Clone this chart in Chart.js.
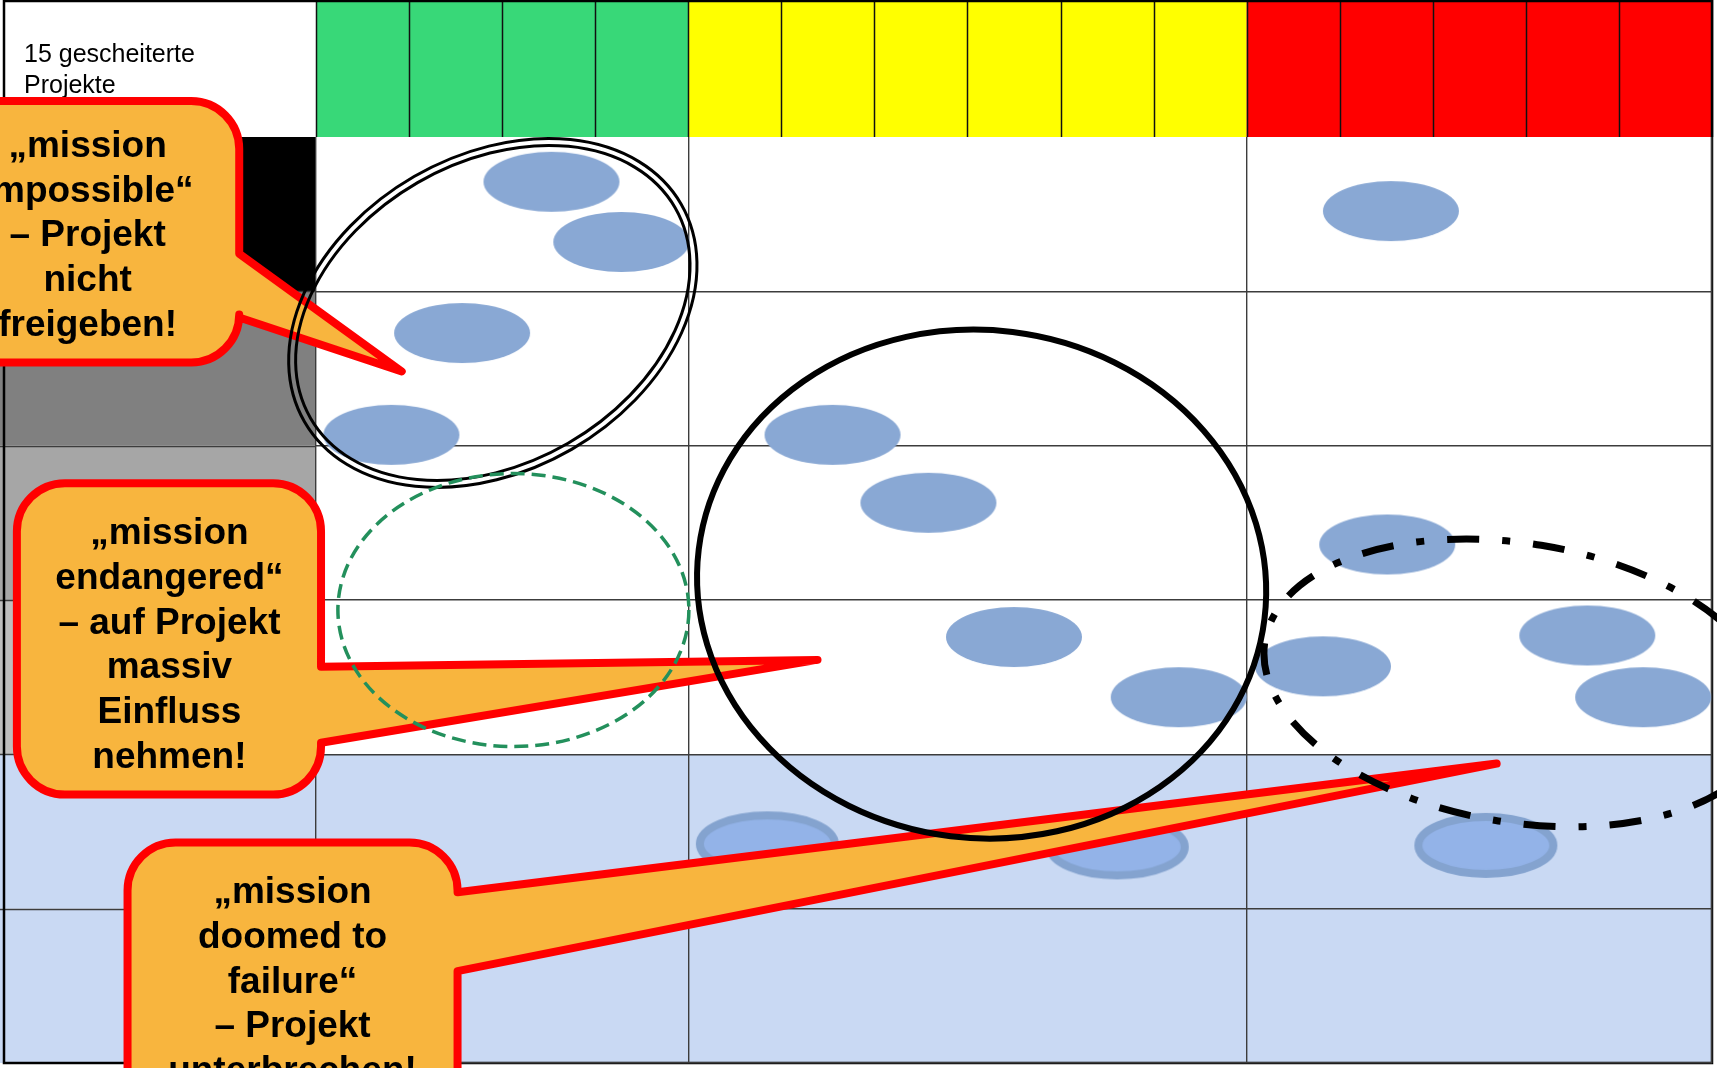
<!DOCTYPE html>
<html>
<head>
<meta charset="utf-8">
<script src="https://cdn.jsdelivr.net/npm/chart.js@4.4.1/dist/chart.umd.min.js"></script>
<style>
	html, body { margin: 0; padding: 0; background: #fff; overflow: hidden; }
	canvas { display: block; }
</style>
</head>
<body>
<canvas id="matrix" width="1717" height="1068"></canvas>
<script>
// header zones and how many sub-columns each one has
const zoneNames = ['grün', 'gelb', 'rot'];
const zoneCells = [4, 6, 5];
const rowCount = 6;
const headerText = ['15 gescheiterte', 'Projekte'];

// projects, x in sub-columns, y in rows (0 = top)
const projectX = [2.53, 3.28, 1.57, 0.81, 11.55, 5.55, 6.58, 7.50, 9.27, 11.51, 10.82, 13.66, 14.26];
const projectY = [0.29, 0.68, 1.27, 1.93, 0.48, 1.93, 2.37, 3.24, 3.63, 2.64, 3.43, 3.23, 3.63];
// projects in the blue band
const stoppedX = [4.85, 8.61, 12.57];
const stoppedY = [4.58, 4.60, 4.59];

const calloutText = [
	['„mission', 'impossible“', '– Projekt', 'nicht', 'freigeben!'],
	['„mission', 'endangered“', '– auf Projekt', 'massiv', 'Einfluss', 'nehmen!'],
	['„mission', 'doomed to', 'failure“', '– Projekt', 'unterbrechen!']
];

// callout boxes in chart units: box, where the pointer leaves the box, pointer tip, text anchor
const callouts = [
	{ x0: -4.24, x1: -0.825, y0: -0.233, y1: 1.461, a0: 0.756, a1: 1.17, tipX: 0.921, tipY: 1.519, tx: -2.454, ty: 0.129 },
	{ x0: -3.214, x1: 0.054, y0: 2.243, y1: 4.261, a0: 3.433, a1: 3.925, tipX: 5.389, tipY: 3.388, tx: -1.575, ty: 2.638 },
	{ x0: -2.025, x1: 1.521, y0: 4.571, y1: 6.42, a0: 4.894, a1: 5.405, tipX: 12.686, tipY: 4.06, tx: -0.252, ty: 4.965 }
];

// rings round the groups (centre in chart units, radii in px, rotation in degrees)
const rings = [
	{ cx: 1.90, cy: 1.140, a: 214, b: 154, rot: -30, kind: 'double' },
	{ cx: 2.121, cy: 3.065, a: 175.5, b: 136.5, rot: 0, kind: 'dashed' },
	{ cx: 7.152, cy: 2.897, a: 285, b: 254, rot: 7, kind: 'solid' },
	{ cx: 12.921, cy: 3.537, a: 257, b: 139.5, rot: 9.4, kind: 'dashdot' }
];

const zoneColors = ['#38d878', '#ffff00', '#ff0000'];
const leftColors = ['#000000', '#808080', '#a6a6a6', '#bfbfbf', '#c9d9f3', '#c9d9f3'];
const bandColor = '#c9d9f3';

var zoneEdges = [0];
zoneCells.forEach(function (n) { zoneEdges.push(zoneEdges[zoneEdges.length - 1] + n); });

function ellipseImage(rx, ry, fill, stroke, lw) {
	var c = document.createElement('canvas');
	c.width = Math.ceil(rx * 2 + lw + 4);
	c.height = Math.ceil(ry * 2 + lw + 4);
	var g = c.getContext('2d');
	g.beginPath();
	g.ellipse(c.width / 2, c.height / 2, rx, ry, 0, 0, Math.PI * 2);
	g.fillStyle = fill;
	g.fill();
	if (stroke) {
		g.lineWidth = lw;
		g.strokeStyle = stroke;
		g.stroke();
	}
	return c;
}

const projectImg = ellipseImage(68, 30, '#89a8d4', null, 0);
const stoppedImg = ellipseImage(67.5, 28.5, '#93b3e8', '#84a3cf', 8);

function calloutPath(ctx, L, T, R, B, r, aTop, aBot, px, py) {
	ctx.beginPath();
	ctx.moveTo(L + r, T);
	ctx.lineTo(R - r, T);
	ctx.arcTo(R, T, R, T + r, r);
	ctx.lineTo(R, aTop);
	ctx.lineTo(px, py);
	ctx.lineTo(R, aBot);
	ctx.lineTo(R, Math.max(aBot, B - r));
	ctx.arcTo(R, B, R - r, B, r);
	ctx.lineTo(L + r, B);
	ctx.arcTo(L, B, L, B - r, r);
	ctx.lineTo(L, T + r);
	ctx.arcTo(L, T, L + r, T, r);
	ctx.closePath();
}

const tablePlugin = {
	id: 'table',
	beforeDraw: function (chart) {
		var ctx = chart.ctx, a = chart.chartArea;
		var x = chart.scales.x, y = chart.scales.y;
		ctx.save();
		ctx.fillStyle = '#fff';
		ctx.fillRect(0, 0, chart.width, chart.height);

		// header cells
		zoneCells.forEach(function (n, z) {
			ctx.fillStyle = zoneColors[z];
			var l = x.getPixelForValue(zoneEdges[z]), r = x.getPixelForValue(zoneEdges[z + 1]);
			ctx.fillRect(l, 0, r - l, a.top);
		});
		ctx.strokeStyle = '#111';
		ctx.lineWidth = 1.5;
		for (var i = 0; i <= zoneEdges[zoneEdges.length - 1]; i++) {
			var px = Math.round(x.getPixelForValue(i)) + 0.5;
			ctx.beginPath();
			ctx.moveTo(px, 0);
			ctx.lineTo(px, a.top);
			ctx.stroke();
		}

		// left column and blue band
		for (var r = 0; r < rowCount; r++) {
			var t = y.getPixelForValue(r), b = y.getPixelForValue(r + 1);
			ctx.fillStyle = leftColors[r];
			ctx.fillRect(0, t, a.left, b - t);
		}
		var bt = y.getPixelForValue(4), bb = y.getPixelForValue(6);
		ctx.fillStyle = bandColor;
		ctx.fillRect(a.left, bt, a.right - a.left, bb - bt);

		ctx.strokeStyle = '#3c3c3c';
		ctx.lineWidth = 1.4;
		for (var k = 1; k < rowCount; k++) {
			var py = Math.round(y.getPixelForValue(k)) + 0.5;
			ctx.beginPath();
			ctx.moveTo(0, py);
			ctx.lineTo(a.left, py);
			ctx.stroke();
		}

		ctx.fillStyle = '#000';
		ctx.font = '25px "Liberation Sans", Arial, sans-serif';
		ctx.textAlign = 'left';
		ctx.textBaseline = 'alphabetic';
		ctx.fillText(headerText[0], 24, 62);
		ctx.fillText(headerText[1], 24, 93);

		// outer frame
		ctx.strokeStyle = '#000';
		ctx.lineWidth = 2.5;
		ctx.strokeRect(4, 1, a.right - 4, a.bottom - 1);
		ctx.restore();
	},
	afterDatasetsDraw: function (chart) {
		var ctx = chart.ctx;
		var x = chart.scales.x, y = chart.scales.y;
		ctx.save();

		callouts.forEach(function (c, n) {
			var L = x.getPixelForValue(c.x0), R = x.getPixelForValue(c.x1);
			var T = y.getPixelForValue(c.y0), B = y.getPixelForValue(c.y1);
			calloutPath(ctx, L, T, R, B, 48, y.getPixelForValue(c.a0), y.getPixelForValue(c.a1),
				x.getPixelForValue(c.tipX), y.getPixelForValue(c.tipY));
			ctx.fillStyle = '#f8b53e';
			ctx.fill();
			ctx.lineJoin = 'round';
			ctx.lineWidth = 8;
			ctx.strokeStyle = '#ff0000';
			ctx.stroke();

			ctx.fillStyle = '#000';
			ctx.font = 'bold 37px "Liberation Sans", Arial, sans-serif';
			ctx.textAlign = 'center';
			ctx.textBaseline = 'alphabetic';
			var tx = x.getPixelForValue(c.tx), ty = y.getPixelForValue(c.ty);
			calloutText[n].forEach(function (line, i) {
				ctx.fillText(line, tx, ty + i * 44.7);
			});
		});

		rings.forEach(function (g) {
			var cx = x.getPixelForValue(g.cx), cy = y.getPixelForValue(g.cy);
			var rot = g.rot * Math.PI / 180;
			ctx.strokeStyle = '#000';
			ctx.setLineDash([]);
			ctx.lineCap = 'butt';
			if (g.kind === 'double') {
				ctx.lineWidth = 3;
				[3.5, -3.5].forEach(function (d) {
					ctx.beginPath();
					ctx.ellipse(cx, cy, g.a + d, g.b + d, rot, 0, Math.PI * 2);
					ctx.stroke();
				});
				return;
			}
			if (g.kind === 'dashed') {
				ctx.strokeStyle = '#23905c';
				ctx.lineWidth = 3.5;
				ctx.setLineDash([14, 7]);
			} else if (g.kind === 'dashdot') {
				ctx.lineWidth = 7;
				ctx.setLineDash([32, 23, 8, 23]);
			} else {
				ctx.lineWidth = 6;
			}
			ctx.beginPath();
			ctx.ellipse(cx, cy, g.a, g.b, rot, 0, Math.PI * 2);
			ctx.stroke();
		});
		ctx.restore();
	}
};

function pts(xs, ys) {
	return xs.map(function (v, i) { return { x: v, y: ys[i] }; });
}

new Chart(document.getElementById('matrix'), {
	type: 'scatter',
	data: {
		datasets: [{
			label: 'Projekte',
			data: pts(projectX, projectY),
			pointStyle: projectImg,
			clip: false
		}, {
			label: 'unterbrochen',
			data: pts(stoppedX, stoppedY),
			pointStyle: stoppedImg,
			clip: false
		}]
	},
	options: {
		responsive: false,
		animation: false,
		events: [],
		layout: { padding: { left: 316, top: 137, right: 1, bottom: 3 } },
		plugins: {
			legend: { display: false },
			tooltip: { enabled: false },
			title: { display: false }
		},
		scales: {
			x: {
				type: 'linear',
				min: 0,
				max: zoneEdges[zoneEdges.length - 1],
				afterBuildTicks: function (s) {
					s.ticks = zoneEdges.map(function (v) { return { value: v }; });
				},
				ticks: { display: false },
				grid: { color: '#3c3c3c', lineWidth: 1.4, drawTicks: false },
				border: { display: false }
			},
			y: {
				type: 'linear',
				min: 0,
				max: rowCount,
				reverse: true,
				afterBuildTicks: function (s) {
					var t = [];
					for (var i = 0; i <= rowCount; i++) t.push({ value: i });
					s.ticks = t;
				},
				ticks: { display: false },
				grid: {
					color: function (c) { return c.tick && c.tick.value === 0 ? 'rgba(0,0,0,0)' : '#3c3c3c'; },
					lineWidth: 1.4,
					drawTicks: false
				},
				border: { display: false }
			}
		}
	},
	plugins: [tablePlugin]
});
</script>
</body>
</html>
